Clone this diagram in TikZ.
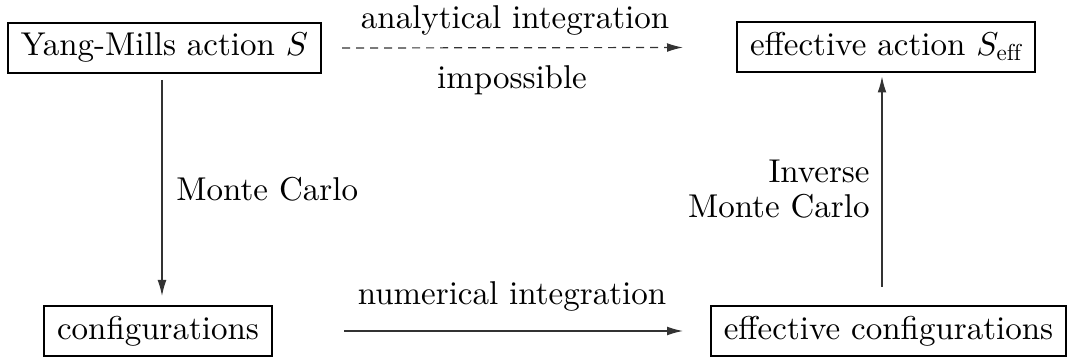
\RequirePackage{fix-cm}
\documentclass[tikz,border=0pt]{standalone}
\usepackage{fontspec}
\setmainfont{lmroman10-regular}[Extension=.otf]
\DeclareFontShape{OML}{cmm}{m}{it}{<->cmmi10}{}
\usetikzlibrary{arrows.meta}
\begin{document}
\begin{tikzpicture}[x=0.5pt,y=-0.5pt,
  every node/.style={font=\fontsize{16.5}{19.5}\selectfont},
  stagebox/.style={draw, line width=1pt, inner xsep=6.3pt, inner ysep=4.5pt, text height=12pt, text depth=4pt},
  conn/.style={line width=0.6pt, draw=black!80, -{Latex[length=8pt,width=4.4pt]}},
  lbl/.style={anchor=base, inner sep=0pt}]
\useasboundingbox (0,0) rectangle (1067,358);
\node[stagebox] (ym) at (164.5,48) {Yang-Mills action $S$};
\node[stagebox] (ea) at (886,47.5) {effective action $S_{\mathrm{eff}}$};
\node[stagebox] (cf) at (158,331) {configurations};
\node[stagebox] (ec) at (888.5,331) {effective configurations};
% top dashed
\draw[conn, dashed, dash pattern=on 4pt off 3pt] (ym.east -| 342,0) -- (ea.west -| 683,0);
\node[lbl] (l1) at (515,29) {analytical integration};
\node[lbl] (l2) at (512,89) {impossible};
% left vertical
\coordinate (s1) at (162,80);
\draw[conn, shorten >=4.5pt] (s1) -- (s1 |- cf.north);
\node[lbl, anchor=base west] (l3) at (176,200) {Monte Carlo};
% bottom
\draw[conn] (cf.east -| 344,0) -- (ec.west -| 683,0);
\node[lbl] (l4) at (512,305) {numerical integration};
% right vertical
\coordinate (s2) at (882,287);
\draw[conn, shorten >=1.5pt] (s2) -- (s2 |- ea.south);
\node[lbl, anchor=base east] (l5) at (870,183) {Inverse};
\node[lbl, anchor=base east] (l6) at (870,218) {Monte Carlo};
\end{tikzpicture}
\end{document}
